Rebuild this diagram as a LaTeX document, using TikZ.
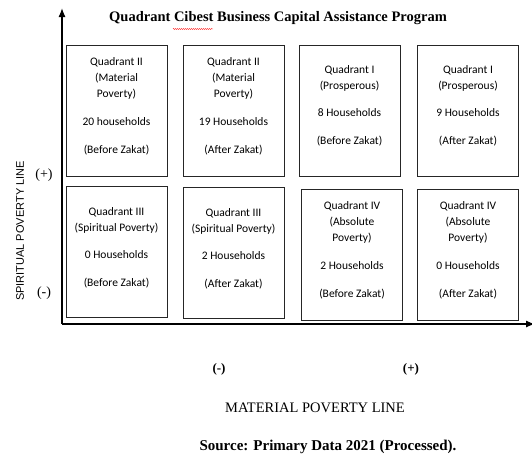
\documentclass[tikz,border=0pt]{standalone}
\usepackage{fontspec}
\setmainfont{Liberation Serif}
\setsansfont{Liberation Sans}
\newfontfamily\boxfont{Carlito}
\usetikzlibrary{positioning,arrows.meta,decorations.pathmorphing}

\begin{document}
\begin{tikzpicture}[x=1pt,y=-1pt,
    quadbox/.style={draw=black!85, line width=0.9pt, minimum width=101pt, minimum height=131pt, inner sep=0pt},
    quadtext/.style={align=center, inner sep=0pt, font=\boxfont\fontsize{11.5}{16}\selectfont},
    axisline/.style={line width=1.3pt, -{Latex[length=9pt,width=7pt]}},
    bigtext/.style={font=\fontsize{14.5}{17}\selectfont}]
  \useasboundingbox (0,0) rectangle (532,455);

  \node[bigtext, font=\bfseries\fontsize{14.5}{17}\selectfont] (title) at (278,18) {Quadrant Cibest Business Capital Assistance Program};
  \draw[red!80, line width=0.4pt, decorate, decoration={snake, amplitude=0.6pt, segment length=2pt}] (173,29) -- (213,29); % spell check mark

  % axes
  \coordinate (origin) at (62,324);
  \coordinate (ytip) at (62,8);
  \coordinate (xtip) at (535,324);
  \draw[axisline] (origin) -- (ytip);
  \draw[axisline] (origin) -- (xtip);

  % upper row
  \node[quadbox] (q2before) at (116.5,110.5) {};
  \node[quadbox] (q2after) at (233.5,110.5) {};
  \node[quadbox] (q1before) at (349.5,110.5) {};
  \node[quadbox] (q1after) at (468,110.5) {};
  % lower row
  \node[quadbox] (q3before) at (116.5,252) {};
  \node[quadbox] (q3after) at (233.5,253) {};
  \node[quadbox] (q4before) at (352,254.5) {};
  \node[quadbox] (q4after) at (468,254.5) {};

  \node[quadtext] (t2before) at ([yshift=4.5pt]q2before.center) {Quadrant II\\(Material\\Poverty)\\[12pt]20 households\\[12pt](Before Zakat)};
  \node[quadtext] (t2after) at ([yshift=4.5pt]q2after.center) {Quadrant II\\(Material\\Poverty)\\[12pt]19 Households\\[12pt](After Zakat)};
  \node[quadtext] (t1before) at ([yshift=5pt]q1before.center) {Quadrant I\\(Prosperous)\\[11pt]8 Households\\[12pt](Before Zakat)};
  \node[quadtext] (t1after) at ([yshift=5pt]q1after.center) {Quadrant I\\(Prosperous)\\[11pt]9 Households\\[12pt](After Zakat)};
  \node[quadtext] (t3before) at ([yshift=4.5pt]q3before.center) {Quadrant III\\(Spiritual Poverty)\\[11pt]0 Households\\[12pt](Before Zakat)};
  \node[quadtext] (t3after) at ([yshift=4.5pt]q3after.center) {Quadrant III\\(Spiritual Poverty)\\[11pt]2 Households\\[12pt](After Zakat)};
  \node[quadtext] (t4before) at ([yshift=4.5pt]q4before.center) {Quadrant IV\\(Absolute\\Poverty)\\[12pt]2 Households\\[12pt](Before Zakat)};
  \node[quadtext] (t4after) at ([yshift=4.5pt]q4after.center) {Quadrant IV\\(Absolute\\Poverty)\\[12pt]0 Households\\[12pt](After Zakat)};

  % axis labels
  \node[rotate=90, font=\sffamily\fontsize{11}{13}\selectfont] (spiritual) at (20,231) {SPIRITUAL POVERTY LINE};
  \node[font=\fontsize{14}{16}\selectfont] (yplus) at (44,175) {(+)};
  \node[font=\fontsize{14}{16}\selectfont] (yminus) at (44,293) {(-)};
  \node[font=\bfseries\fontsize{13}{15}\selectfont] (xminus) at (219,369) {(-)};
  \node[font=\bfseries\fontsize{13}{15}\selectfont] (xplus) at (411,369) {(+)};
  \node[bigtext] (material) at (315,408) {MATERIAL POVERTY LINE};
  \node[bigtext, font=\bfseries\fontsize{15}{17}\selectfont] (source) at (328,447) {Source: Primary Data 2021 (Processed).};
\end{tikzpicture}
\end{document}
